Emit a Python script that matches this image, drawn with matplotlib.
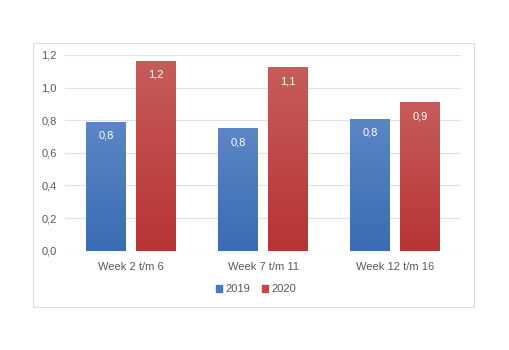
import numpy as np
import matplotlib.pyplot as plt
from matplotlib.patches import Rectangle
from matplotlib.colors import LinearSegmentedColormap

categories = ["Week 2 t/m 6", "Week 7 t/m 11", "Week 12 t/m 16"]
years = ["2019", "2020"]
values_2019 = [0.79, 0.75, 0.81]
values_2020 = [1.165, 1.125, 0.91]
labels_2019 = ["0,8", "0,8", "0,8"]
labels_2020 = ["1,2", "1,1", "0,9"]
yticks = [0.0, 0.2, 0.4, 0.6, 0.8, 1.0, 1.2]
ytick_labels = ["0,0", "0,2", "0,4", "0,6", "0,8", "1,0", "1,2"]

W, H = 509, 350
plt.rcParams['font.family'] = ['Liberation Sans', 'DejaVu Sans']
fig = plt.figure(figsize=(W / 100, H / 100), dpi=100)
fig.patch.set_facecolor('white')

# rand rond de grafiek
fig.patches.append(Rectangle((33 / W, 1 - 307 / H), (474 - 33) / W, (307 - 43) / H,
                             transform=fig.transFigure, fill=False,
                             edgecolor='#d9dde3', linewidth=0.8))

ax = fig.add_axes([65 / W, 1 - 250.7 / H, 396 / W, (250.7 - 55) / H])
for s in ax.spines.values():
    s.set_visible(False)
ax.set_yticks(yticks)
ax.set_yticklabels(ytick_labels)
ax.set_xticks(range(len(categories)))
ax.set_xticklabels(categories)
ax.tick_params(length=0, labelsize=8, labelcolor='#595959')
ax.tick_params(axis='y', pad=6)
ax.tick_params(axis='x', pad=8)
ax.grid(axis='y', color='#dde3ea', linewidth=0.9)
ax.set_axisbelow(True)

blue_cmap = LinearSegmentedColormap.from_list('b', ['#3a6cb2', '#5b86c6'])
red_cmap = LinearSegmentedColormap.from_list('r', ['#b73434', '#c65c5a'])
bw = 40 / 132
x = np.arange(len(categories))
grad = np.linspace(0, 1, 100).reshape(-1, 1)

def gradient_bars(xpos, vals, cmap, labels):
    bars = ax.bar(xpos, vals, width=bw, color='none', edgecolor='none')
    for b, lab in zip(bars, labels):
        x0, w, h = b.get_x(), b.get_width(), b.get_height()
        im = ax.imshow(grad, extent=(x0, x0 + w, 0, h), origin='lower',
                       cmap=cmap, aspect='auto', zorder=2)
        im.set_clip_path(b)
        ax.annotate(lab, (x0 + w / 2, h), xytext=(0, -10), textcoords='offset points',
                    ha='center', va='center', color='white', fontsize=8, zorder=3)
    return bars

gradient_bars(x - 25 / 132, values_2019, blue_cmap, labels_2019)
gradient_bars(x + 25 / 132, values_2020, red_cmap, labels_2020)
ax.set_xlim(-0.5, len(categories) - 0.5)
ax.set_ylim(0, 1.2)

handles = [Rectangle((0, 0), 1, 1, color='#4a78bc'), Rectangle((0, 0), 1, 1, color='#bf4745')]
fig.legend(handles, years, loc='center', bbox_to_anchor=(256 / W, 1 - 289 / H), ncol=2,
           frameon=False, fontsize=8, labelcolor='#595959', handlelength=0.6,
           handleheight=0.6, handletextpad=0.3, columnspacing=1.0)

plt.savefig('out.png', dpi=100, facecolor='white')
